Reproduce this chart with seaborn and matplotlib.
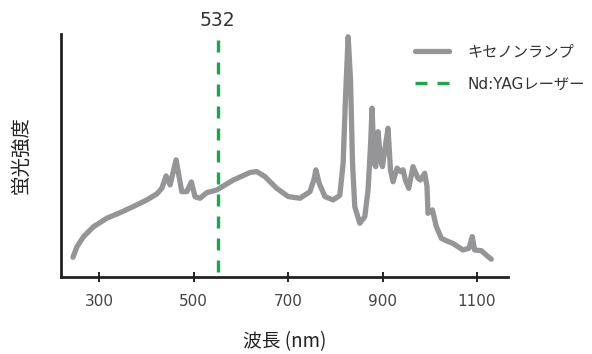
import matplotlib
matplotlib.use("Agg")
import matplotlib.pyplot as plt
import seaborn as sns
import pandas as pd

wavelength = [244.4, 252.9, 266.8, 288.0, 316.3, 344.4, 372.5, 400.8, 422.0, 432.6,
              441.6, 450.1, 462.8, 474.8, 485.4, 495.0, 503.0, 513.5, 527.7, 548.8,
              583.9, 619.2, 633.4, 651.0, 675.7, 700.2, 725.0, 746.1, 754.5, 758.8,
              765.8, 777.8, 795.3, 809.5, 816.5, 821.6, 827.1, 832.2, 836.4, 841.2,
              851.8, 862.4, 869.3, 874.4, 877.8, 882.1, 885.6, 890.5, 895.6, 899.8,
              904.7, 911.6, 916.7, 922.2, 930.7, 937.9, 943.4, 948.4, 955.4, 964.5,
              975.1, 980.2, 989.3, 994.1, 996.2, 1005.5, 1013.9, 1024.5, 1035.1, 1049.0,
              1070.2, 1082.9, 1090.0, 1094.9, 1109.1, 1119.6, 1130.2]
intensity = [8.0, 12.4, 16.5, 20.6, 24.1, 26.4, 28.9, 31.6, 34.1, 36.4,
             41.5, 37.8, 48.1, 35.0, 35.0, 39.0, 32.9, 32.3, 34.6, 35.7,
             39.8, 42.9, 43.3, 41.2, 36.4, 33.0, 32.3, 35.0, 39.8, 44.0,
             38.5, 33.0, 31.6, 33.5, 46.7, 74.2, 98.8, 81.0, 46.7, 28.8,
             22.0, 24.7, 35.7, 53.6, 69.4, 46.7, 45.3, 59.7, 48.1, 45.3,
             52.2, 61.1, 44.0, 39.1, 44.7, 43.3, 44.0, 39.8, 36.4, 45.3,
             40.5, 39.8, 42.6, 37.1, 26.1, 27.5, 20.6, 15.8, 14.8, 13.7,
             11.0, 11.7, 16.5, 11.0, 10.7, 8.9, 7.2]
laser_nm = 551
laser_label = "532"
xticks = [300, 500, 700, 900, 1100]
series_lamp = "キセノンランプ"
series_laser = "Nd:YAGレーザー"

sns.set_theme(style="white")
plt.rcParams['font.family'] = ['DejaVu Sans', 'Noto Sans CJK JP']

df = pd.DataFrame({"wl": wavelength, "I": intensity})

fig = plt.figure(figsize=(5.92, 3.54), dpi=100)
ax = fig.add_axes([0.103, 0.2184, 0.755, 0.686])

sns.lineplot(data=df, x="wl", y="I", ax=ax, color="#959598", linewidth=3.8,
             label=series_lamp, solid_joinstyle="round", solid_capstyle="round")
ax.axvline(laser_nm, ymin=0.02, ymax=0.995, color="#17a84c", linewidth=2.4,
           linestyle=(0, (3.6, 3.0)), label=series_laser)

ax.set_xlim(219, 1165.5)
ax.set_ylim(0, 100)
ax.set_xticks(xticks)
ax.set_xticklabels([str(t) for t in xticks])
ax.set_yticks([])
for s in ["top", "right"]:
    ax.spines[s].set_visible(False)
for s in ["left", "bottom"]:
    ax.spines[s].set_color("#222222")
    ax.spines[s].set_linewidth(2.0)
ax.tick_params(axis="x", direction="inout", length=7.5, width=1.4, color="#222222",
               labelsize=11, labelcolor="#444444", pad=9, bottom=True)

ax.text(laser_nm, 101.5, laser_label, ha="center", va="bottom", fontsize=13.5,
        color="#333333", clip_on=False)

ax.set_xlabel("波長 (nm)", fontsize=13.5, color="#222222", labelpad=16,
              family=['Noto Sans CJK JP', 'DejaVu Sans'])
ax.set_ylabel("蛍光強度", fontsize=14, color="#222222", labelpad=21,
              family=['Noto Sans CJK JP', 'DejaVu Sans'])

leg = ax.legend(loc="upper left", bbox_to_anchor=(0.762, 1.012), frameon=False,
                fontsize=11, handlelength=2.2, handletextpad=1.2, labelspacing=1.1,
                labelcolor="#333333")

fig.savefig("out.png", dpi=100)
